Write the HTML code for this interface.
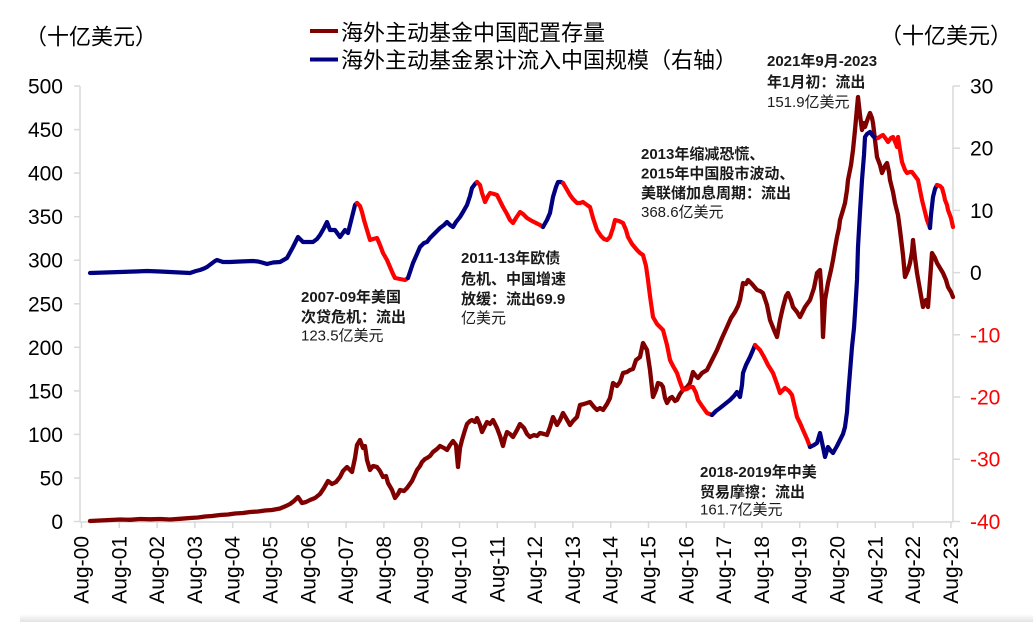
<!DOCTYPE html>
<html><head><meta charset="utf-8">
<style>
html,body{margin:0;padding:0;background:#fff;}
svg{display:block;}
text{font-family:"Liberation Sans","Noto Sans CJK SC",sans-serif;}
</style></head>
<body>
<svg width="1033" height="622" viewBox="0 0 1033 622" xmlns="http://www.w3.org/2000/svg">
<defs>
<linearGradient id="sh" x1="0" y1="0" x2="0" y2="1">
<stop offset="0" stop-color="#ffffff"/><stop offset="1" stop-color="#e2e2e2"/>
</linearGradient>
</defs>
<rect x="0" y="0" width="1033" height="622" fill="#fff"/>
<rect x="20" y="614" width="1013" height="8" fill="url(#sh)"/>

<!-- legend -->
<line x1="310" y1="31" x2="338" y2="31" stroke="#800000" stroke-width="4"/>
<line x1="310" y1="59.5" x2="338" y2="59.5" stroke="#000080" stroke-width="4"/>
<text x="341" y="40.5" font-size="22" fill="#000">海外主动基金中国配置存量</text>
<text x="341" y="68" font-size="22" fill="#000">海外主动基金累计流入中国规模（右轴）</text>

<!-- unit labels -->
<text x="25" y="44.5" font-size="22" fill="#000">（十亿美元）</text>
<text x="880" y="43.5" font-size="22" fill="#000">（十亿美元）</text>

<!-- axes -->
<g stroke="#d9d9d9" stroke-width="1.5" fill="none">
<line x1="80" y1="86" x2="80" y2="522"/>
<line x1="953" y1="86" x2="953" y2="522"/>
<line x1="80" y1="522" x2="953" y2="522"/>
<line x1="74" y1="86" x2="80" y2="86"/>
<line x1="74" y1="129.6" x2="80" y2="129.6"/>
<line x1="74" y1="173.1" x2="80" y2="173.1"/>
<line x1="74" y1="216.7" x2="80" y2="216.7"/>
<line x1="74" y1="260.2" x2="80" y2="260.2"/>
<line x1="74" y1="303.8" x2="80" y2="303.8"/>
<line x1="74" y1="347.3" x2="80" y2="347.3"/>
<line x1="74" y1="390.9" x2="80" y2="390.9"/>
<line x1="74" y1="434.4" x2="80" y2="434.4"/>
<line x1="74" y1="478" x2="80" y2="478"/>
<line x1="74" y1="521.5" x2="80" y2="521.5"/>
<line x1="953" y1="86" x2="960" y2="86"/>
<line x1="953" y1="148.2" x2="960" y2="148.2"/>
<line x1="953" y1="210.4" x2="960" y2="210.4"/>
<line x1="953" y1="272.6" x2="960" y2="272.6"/>
<line x1="953" y1="334.8" x2="960" y2="334.8"/>
<line x1="953" y1="397" x2="960" y2="397"/>
<line x1="953" y1="459.2" x2="960" y2="459.2"/>
<line x1="953" y1="521.5" x2="960" y2="521.5"/>
<line x1="81.5" y1="522" x2="81.5" y2="528"/>
<line x1="119.3" y1="522" x2="119.3" y2="528"/>
<line x1="157.1" y1="522" x2="157.1" y2="528"/>
<line x1="194.9" y1="522" x2="194.9" y2="528"/>
<line x1="232.7" y1="522" x2="232.7" y2="528"/>
<line x1="270.5" y1="522" x2="270.5" y2="528"/>
<line x1="308.3" y1="522" x2="308.3" y2="528"/>
<line x1="346.1" y1="522" x2="346.1" y2="528"/>
<line x1="383.9" y1="522" x2="383.9" y2="528"/>
<line x1="421.7" y1="522" x2="421.7" y2="528"/>
<line x1="459.5" y1="522" x2="459.5" y2="528"/>
<line x1="497.3" y1="522" x2="497.3" y2="528"/>
<line x1="535.1" y1="522" x2="535.1" y2="528"/>
<line x1="572.9" y1="522" x2="572.9" y2="528"/>
<line x1="610.7" y1="522" x2="610.7" y2="528"/>
<line x1="648.5" y1="522" x2="648.5" y2="528"/>
<line x1="686.3" y1="522" x2="686.3" y2="528"/>
<line x1="724.1" y1="522" x2="724.1" y2="528"/>
<line x1="761.9" y1="522" x2="761.9" y2="528"/>
<line x1="799.7" y1="522" x2="799.7" y2="528"/>
<line x1="837.5" y1="522" x2="837.5" y2="528"/>
<line x1="875.3" y1="522" x2="875.3" y2="528"/>
<line x1="913.1" y1="522" x2="913.1" y2="528"/>
<line x1="950.9" y1="522" x2="950.9" y2="528"/>
</g>

<!-- left tick labels -->
<g font-size="21" fill="#000" text-anchor="end">
<text x="63" y="93.5">500</text>
<text x="63" y="137">450</text>
<text x="63" y="180.6">400</text>
<text x="63" y="224.2">350</text>
<text x="63" y="267.7">300</text>
<text x="63" y="311.3">250</text>
<text x="63" y="354.8">200</text>
<text x="63" y="398.4">150</text>
<text x="63" y="441.9">100</text>
<text x="63" y="485.5">50</text>
<text x="63" y="529">0</text>
</g>
<!-- right tick labels -->
<g font-size="21" text-anchor="start">
<text x="970" y="93.5" fill="#000">30</text>
<text x="970" y="155.7" fill="#000">20</text>
<text x="970" y="217.9" fill="#000">10</text>
<text x="970" y="280.1" fill="#000">0</text>
<text x="970" y="342.3" fill="#ff0000">-10</text>
<text x="970" y="404.5" fill="#ff0000">-20</text>
<text x="970" y="466.7" fill="#ff0000">-30</text>
<text x="970" y="529" fill="#ff0000">-40</text>
</g>

<!-- x labels -->
<g font-size="21" fill="#000" text-anchor="end">
<text transform="translate(88.5,536) rotate(-90)">Aug-00</text>
<text transform="translate(126.3,536) rotate(-90)">Aug-01</text>
<text transform="translate(164.1,536) rotate(-90)">Aug-02</text>
<text transform="translate(201.9,536) rotate(-90)">Aug-03</text>
<text transform="translate(239.7,536) rotate(-90)">Aug-04</text>
<text transform="translate(277.5,536) rotate(-90)">Aug-05</text>
<text transform="translate(315.3,536) rotate(-90)">Aug-06</text>
<text transform="translate(353.1,536) rotate(-90)">Aug-07</text>
<text transform="translate(390.9,536) rotate(-90)">Aug-08</text>
<text transform="translate(428.7,536) rotate(-90)">Aug-09</text>
<text transform="translate(466.5,536) rotate(-90)">Aug-10</text>
<text transform="translate(504.3,536) rotate(-90)">Aug-11</text>
<text transform="translate(542.1,536) rotate(-90)">Aug-12</text>
<text transform="translate(579.9,536) rotate(-90)">Aug-13</text>
<text transform="translate(617.7,536) rotate(-90)">Aug-14</text>
<text transform="translate(655.5,536) rotate(-90)">Aug-15</text>
<text transform="translate(693.3,536) rotate(-90)">Aug-16</text>
<text transform="translate(731.1,536) rotate(-90)">Aug-17</text>
<text transform="translate(768.9,536) rotate(-90)">Aug-18</text>
<text transform="translate(806.7,536) rotate(-90)">Aug-19</text>
<text transform="translate(844.5,536) rotate(-90)">Aug-20</text>
<text transform="translate(882.3,536) rotate(-90)">Aug-21</text>
<text transform="translate(920.1,536) rotate(-90)">Aug-22</text>
<text transform="translate(957.9,536) rotate(-90)">Aug-23</text>
</g>

<!-- dark red series (left axis) -->
<polyline fill="none" stroke="#800000" stroke-width="4.3" stroke-linejoin="round" stroke-linecap="round" points="
90,521 100,520.5 110,520 120,519.5 130,519.8 140,519 150,519.3 160,519 170,519.5 180,518.8 190,518 198,517.5 205,516.5 212,516 220,515 228,514.5 235,513.5 243,513 250,512 258,511.5 265,510.5 272,510 280,508.5 286,506 290,504 294,501 298,497 302,503 306,502 310,500 315,498 320,494 324,488 328,481 332,484 336,482 340,477 343,471 347,467 350,470 352,472 355,458 357,445 360,440 363,448 365,446 367,460 370,470 373,466 377,467 380,471 383,477 386,476 388,483 392,490 395,498 398,494 400,490 404,491 407,488 412,481 417,470 420,466 422,462 425,459 427,458 430,456 433,452 437,449 440,446 444,448 447,450 450,445 453,441 456,445 458,467 460,448 462,440 465,430 467,424 470,421 472,420 475,422 477,418 480,425 482,432 485,426 487,422 490,424 493,420 497,428 500,436 503,446 505,438 507,432 510,434 513,437 517,430 520,424 524,428 527,434 530,437 534,435 537,436 540,433 544,434 547,435 550,427 553,417 557,425 560,420 563,413 566,418 570,425 573,421 577,417 580,405 584,404 587,403 590,402 594,407 597,410 600,408 603,410 607,404 610,398 613,383 617,386 620,382 623,373 627,372 630,370 633,369 636,360 640,357 643,343 647,350 650,370 653,397 656,390 658,383 661,384 663,387 665,398 667,403 670,398 672,397 675,401 677,400 680,394 683,390 687,387 690,383 693,372 696,376 698,378 702,373 707,370 712,360 717,350 722,338 727,327 731,318 735,312 738,306 740,300 743,283 746,284 748,280 752,284 757,290 760,291 763,293 767,305 770,320 774,330 777,337 780,320 783,307 786,296 788,293 791,300 793,307 797,312 800,317 805,307 810,300 814,288 817,273 820,270 822,300 823,337 825,300 828,283 831,270 833,260 835,248 837,237 839,228 840,220 843,210 845,203 847,190 848,180 851,165 853,150 855,130 858,97 860,115 862,130 864,123 865,127 868,118 870,113 872,118 873,123 875,140 877,157 880,165 882,173 885,166 887,163 889,172 890,180 893,192 895,203 898,215 900,230 903,255 905,277 908,270 910,263 912,252 913,240 915,258 917,273 920,290 923,307 926,300 928,307 930,280 932,253 935,258 937,263 940,268 943,273 946,280 948,287 951,292 953,297"/>

<!-- flow series (right axis) -->
<g fill="none" stroke-width="4.2" stroke-linejoin="round" stroke-linecap="round">
<polyline stroke="#000080" points="90,273 105,272.5 120,272 135,271.5 147,271 160,271.5 170,272 180,272.5 190,273 196,271 200,270 204,268.5 207,267 211,264 215,261 217,260 220,261 223,262 230,262 240,261.5 253,261 258,261.5 262,262.5 267,264 273,262.5 280,262 287,258 293,247 298,237 303,242 308,242 313,242 317,239 320,235 324,228 327,222 330,230 335,230 340,237 345,230 348,233 352,217 355,205 357,203"/>
<polyline stroke="#ff0000" points="357,203 360,206 362,212 364,220 367,230 370,240 373,239 377,238 380,245 383,253 387,260 390,267 393,274 395,278 400,279 405,280 408,278"/>
<polyline stroke="#000080" points="408,278 413,263 417,254 420,247 424,243 427,242 430,238 433,235 437,231 440,228 444,225 447,222 450,225 453,227 456,222 460,217 463,212 467,205 470,196 472,188 475,184 477,182"/>
<polyline stroke="#ff0000" points="477,182 480,185 482,193 485,202 488,196 490,193 494,194 497,195 500,201 503,207 507,214 510,220 513,223 516,218 520,212 523,214 527,218 532,221 536,223 540,225 543,227"/>
<polyline stroke="#000080" points="543,227 547,220 550,213 553,197 556,187 558,182 561,182 563,183"/>
<polyline stroke="#ff0000" points="563,183 566,188 570,195 573,199 577,203 580,203 583,202 587,205 590,207 593,218 597,230 601,236 604,239 607,240 610,237 613,228 615,220 619,221 623,223 626,230 628,237 632,244 637,250 640,253 643,255 646,266 648,280 650,296 653,317 657,324 660,327 663,330 667,345 670,360 673,366 677,373 680,382 683,390 687,389 690,387 693,387 696,393 698,400 702,406 707,413 712,415"/>
<polyline stroke="#000080" points="712,415 716,411 720,408 725,404 730,400 734,396 737,392 740,397 742,385 743,373 746,365 750,357 753,350 755,345"/>
<polyline stroke="#ff0000" points="755,345 760,350 764,357 768,365 773,373 777,384 780,393 783,390 785,388 789,391 792,395 795,408 797,417 800,423 803,430 807,439 810,447"/>
<polyline stroke="#000080" points="810,447 814,445 817,443 820,433 823,447 825,457 828,447 831,451 833,453 837,446 840,440 843,434 845,427 847,412 848,397 850,372 852,347 854,328 855,313 857,280 858,247 860,212 862,180 864,155 865,137 867,134 870,132 873,136 875,138 878,138"/>
<polyline stroke="#ff0000" points="878,138 881,136 883,135 886,139 888,142 891,138 893,137 896,144 897,147 898,137 900,150 902,162 905,170 907,173 910,172 912,172 915,176 918,180 920,190 922,200 925,212 927,220 930,228"/>
<polyline stroke="#000080" points="930,228 931,215 933,197 935,189 937,185"/>
<polyline stroke="#ff0000" points="937,185 940,186 942,188 944,195 945,200 947,205 948,210 951,218 953,227"/>
</g>

<!-- annotations -->
<g font-size="15" fill="#1a1a1a" font-weight="bold">
<text x="301" y="302">2007-09年美国</text>
<text x="301" y="322">次贷危机：流出</text>
<text x="461" y="263">2011-13年欧债</text>
<text x="461" y="284">危机、中国增速</text>
<text x="461" y="304">放缓：流出69.9</text>
<text x="641" y="159">2013年缩减恐慌、</text>
<text x="641" y="178.5">2015年中国股市波动、</text>
<text x="641" y="198">美联储加息周期：流出</text>
<text x="767" y="66">2021年9月-2023</text>
<text x="767" y="87">年1月初：流出</text>
<text x="700" y="477">2018-2019年中美</text>
<text x="700" y="497">贸易摩擦：流出</text>
</g>
<g font-size="15" fill="#1a1a1a">
<text x="301" y="340.5">123.5亿美元</text>
<text x="461" y="323">亿美元</text>
<text x="641" y="217">368.6亿美元</text>
<text x="767" y="107">151.9亿美元</text>
<text x="700" y="514.5">161.7亿美元</text>
</g>
</svg>
</body></html>
